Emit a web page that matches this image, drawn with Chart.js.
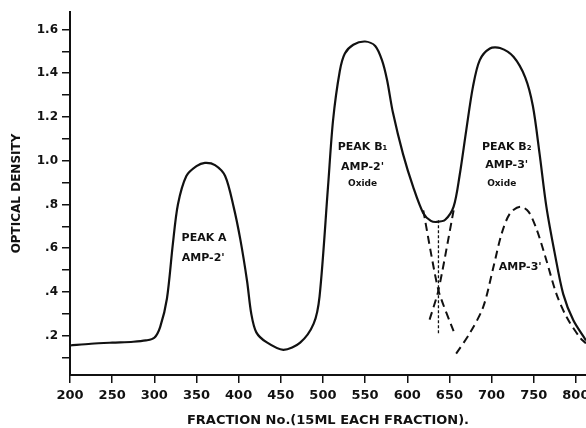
<!DOCTYPE html>
<html>
<head>
<meta charset="utf-8">
<script src="https://cdn.jsdelivr.net/npm/chart.js@4.4.1/dist/chart.umd.min.js"></script>
<style>
  html, body { margin: 0; padding: 0; background: #fff; }
  #wrap { width: 586px; height: 428px; }
</style>
</head>
<body>
<div id="wrap"><canvas id="chart" width="586" height="428"></canvas></div>
<script>
// main elution profile (solid)
const fractionNo = [200, 225, 250, 275, 290, 300, 307, 315, 322, 328, 338, 350, 360, 372, 384, 394, 402, 410, 415, 421, 433, 453, 473, 489, 496, 506, 512, 520, 526, 536, 550, 562, 570, 576, 583, 595, 607, 619, 628, 635, 645, 655, 662, 670, 678, 686, 698, 710, 726, 740, 749, 757, 765, 775, 785, 797, 812]
const opticalDensity = [0.155, 0.163, 0.168, 0.172, 0.178, 0.19, 0.24, 0.37, 0.62, 0.80, 0.93, 0.975, 0.99, 0.98, 0.93, 0.79, 0.64, 0.45, 0.30, 0.215, 0.17, 0.135, 0.168, 0.255, 0.38, 0.88, 1.185, 1.41, 1.49, 1.53, 1.545, 1.525, 1.46, 1.37, 1.22, 1.03, 0.88, 0.76, 0.725, 0.72, 0.73, 0.79, 0.93, 1.14, 1.34, 1.46, 1.513, 1.515, 1.475, 1.38, 1.25, 1.03, 0.79, 0.575, 0.39, 0.27, 0.178]

// AMP-3' component (dashed)
const amp3Fraction = [658, 674, 690, 702, 712, 722, 734, 744, 754, 765, 777, 789, 805, 812]
const amp3Density = [0.118, 0.21, 0.33, 0.51, 0.667, 0.76, 0.79, 0.766, 0.68, 0.545, 0.39, 0.285, 0.19, 0.165]

// extrapolated peak edges in the B1/B2 valley
const fallEdgeX = [619, 637, 657]
const fallEdgeY = [0.773, 0.407, 0.20]
const riseEdgeX = [655, 637, 625]
const riseEdgeY = [0.773, 0.407, 0.255]
const cutX = [637, 637]
const cutY = [0.728, 0.209]

const xTicks = [200, 250, 300, 350, 400, 450, 500, 550, 600, 650, 700, 750, 800]
const yTicks = [0.1, 0.2, 0.3, 0.4, 0.5, 0.6, 0.7, 0.8, 0.9, 1.0, 1.1, 1.2, 1.3, 1.4, 1.5, 1.6]
const yTickLabels = { 0.2: '.2', 0.4: '.4', 0.6: '.6', 0.8: '.8', 1.0: '1.0', 1.2: '1.2', 1.4: '1.4', 1.6: '1.6' }

const notes = [
  { text: 'PEAK A', x: 359, y: 0.645, size: 11 },
  { text: "AMP-2'", x: 358, y: 0.554, size: 11 },
  { text: 'PEAK B\u2081', x: 547, y: 1.062, size: 11 },
  { text: "AMP-2'", x: 547, y: 0.97, size: 11 },
  { text: 'Oxide', x: 547, y: 0.897, size: 9 },
  { text: 'PEAK B\u2082', x: 718, y: 1.062, size: 11 },
  { text: "AMP-3'", x: 718, y: 0.98, size: 11 },
  { text: 'Oxide', x: 712, y: 0.897, size: 9 },
  { text: "AMP-3'", x: 734, y: 0.513, size: 11 }
]

const ink = '#111'
const fontFamily = '"DejaVu Sans", sans-serif'
const pts = (xs, ys) => xs.map((x, i) => ({ x, y: ys[i] }))

const notesPlugin = {
  id: 'notes',
  afterDatasetsDraw(chart) {
    const { ctx, scales: { x, y } } = chart
    ctx.save()
    ctx.fillStyle = ink
    ctx.textAlign = 'center'
    ctx.textBaseline = 'middle'
    notes.forEach(n => {
      ctx.font = `bold ${n.size}px ${fontFamily}`
      ctx.fillText(n.text, x.getPixelForValue(n.x), y.getPixelForValue(n.y))
    })
    ctx.restore()
  }
}

const edgeStyle = { borderColor: ink, borderWidth: 2, borderDash: [8, 5], pointRadius: 0, tension: 0.2, fill: false }

new Chart(document.getElementById('chart'), {
  type: 'line',
  data: {
    datasets: [
      { data: pts(fractionNo, opticalDensity), borderColor: ink, borderWidth: 2.2, pointRadius: 0, tension: 0.3, fill: false },
      { data: pts(amp3Fraction, amp3Density), borderColor: ink, borderWidth: 2, borderDash: [8, 5], pointRadius: 0, tension: 0.3, fill: false },
      { data: pts(fallEdgeX, fallEdgeY), ...edgeStyle },
      { data: pts(riseEdgeX, riseEdgeY), ...edgeStyle },
      { data: pts(cutX, cutY), borderColor: ink, borderWidth: 1.3, borderDash: [3, 2], pointRadius: 0, tension: 0, fill: false }
    ]
  },
  options: {
    responsive: false,
    animation: false,
    layout: { padding: { top: 12, left: 0, right: 0, bottom: 0 } },
    plugins: { legend: { display: false }, tooltip: { enabled: false } },
    scales: {
      x: {
        type: 'linear',
        min: 200,
        max: 812,
        afterBuildTicks: s => { s.ticks = xTicks.map(v => ({ value: v })) },
        afterFit: s => { s.height = 53; s.paddingLeft = 0; s.paddingRight = 0 },
        ticks: { color: ink, font: { family: fontFamily, size: 13, weight: 'bold' }, padding: 5, maxRotation: 0, autoSkip: false },
        grid: { drawOnChartArea: false, drawTicks: true, tickLength: 8, color: ink, lineWidth: 1.5 },
        border: { color: ink, width: 2 },
        title: { display: true, text: 'FRACTION No.(15ML EACH FRACTION).', color: ink, font: { family: fontFamily, size: 13, weight: 'bold' }, padding: { top: 0, bottom: 0 } }
      },
      y: {
        type: 'linear',
        min: 0.02,
        max: 1.68,
        afterBuildTicks: s => { s.ticks = yTicks.map(v => ({ value: v })) },
        afterFit: s => { s.width = 70; s.paddingTop = 0; s.paddingBottom = 0 },
        ticks: {
          color: ink,
          font: { family: fontFamily, size: 12, weight: 'bold' },
          padding: 4,
          autoSkip: false,
          callback: v => yTickLabels[Math.round(v * 10) / 10] || ''
        },
        grid: { drawOnChartArea: false, drawTicks: true, tickLength: 8, color: ink, lineWidth: 1.5 },
        border: { color: ink, width: 2 },
        title: { display: true, text: 'OPTICAL DENSITY', color: ink, font: { family: fontFamily, size: 12, weight: 'bold' }, padding: { top: 10, bottom: 0 } }
      }
    }
  },
  plugins: [notesPlugin]
})
</script>
</body>
</html>
